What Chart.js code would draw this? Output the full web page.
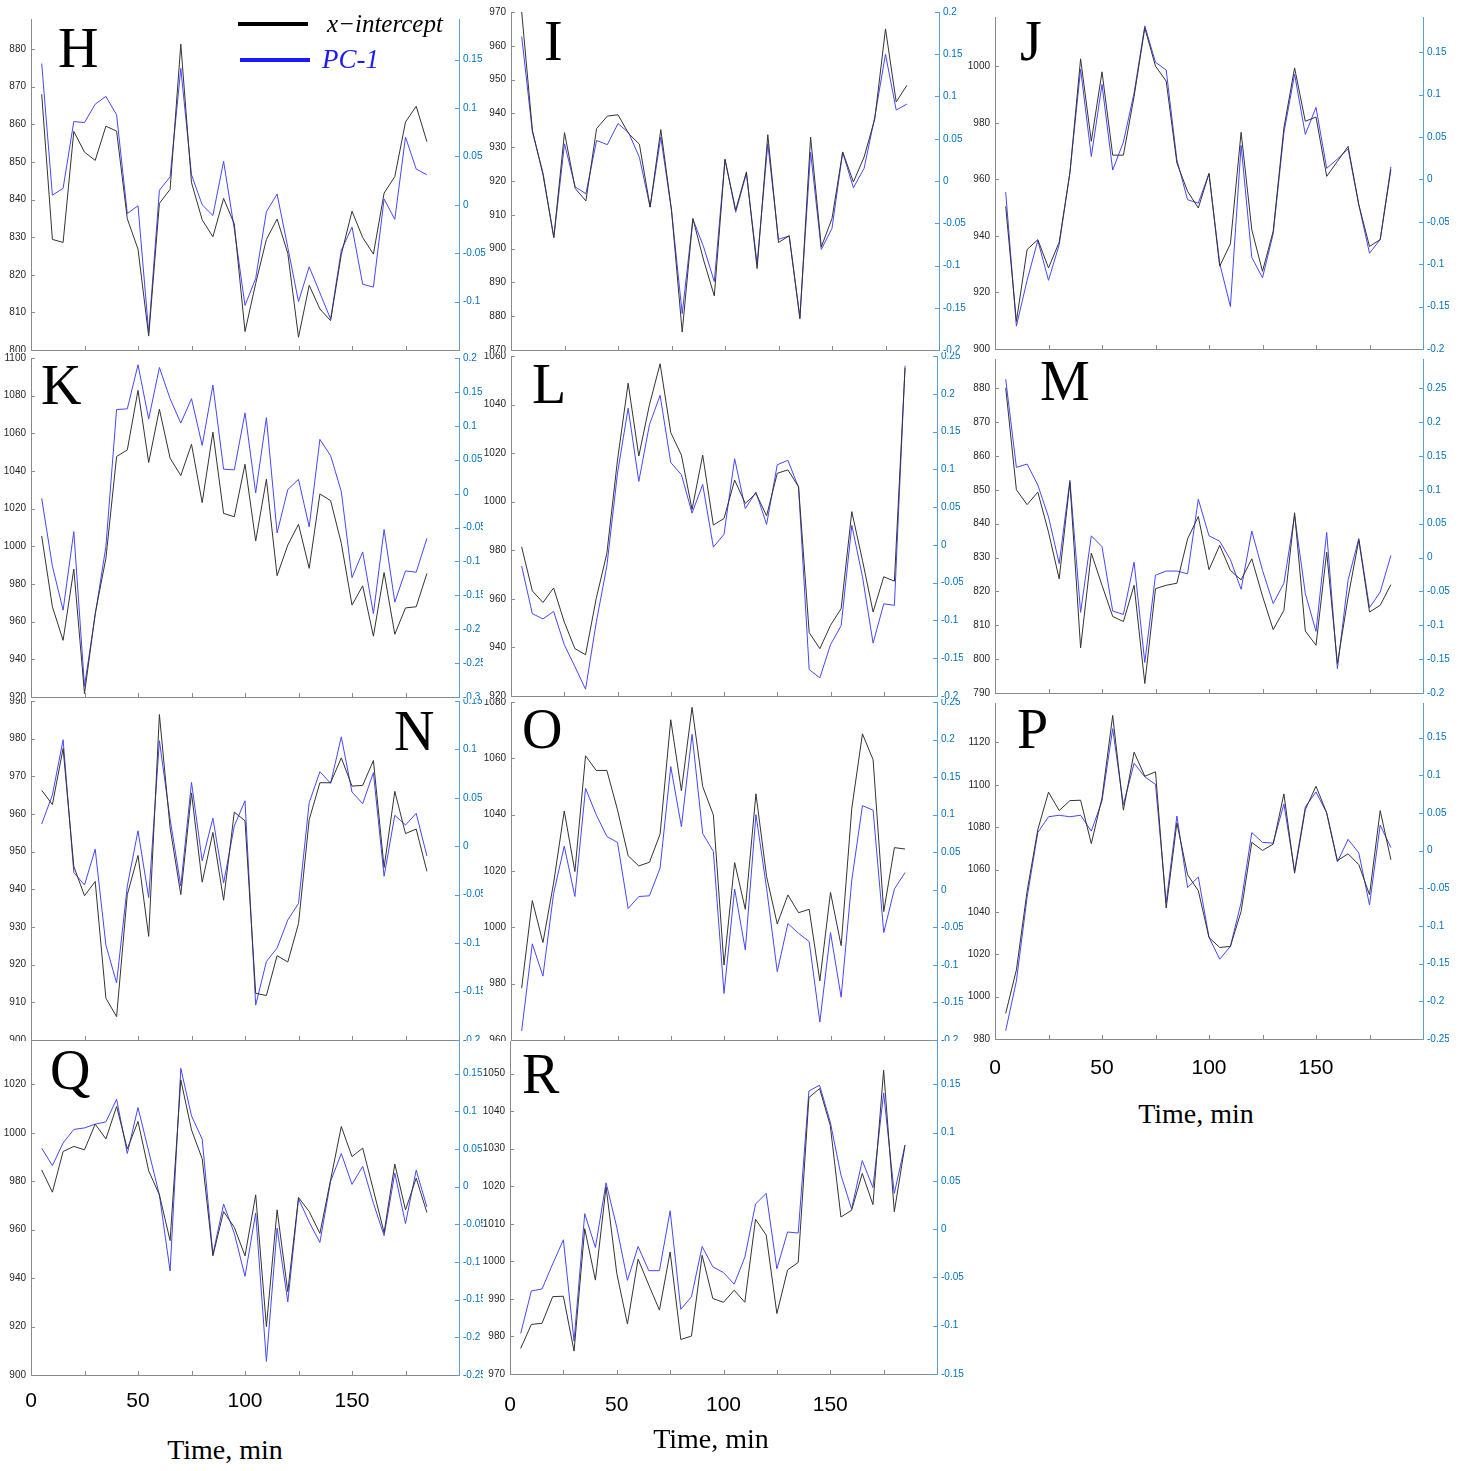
<!DOCTYPE html>
<html>
<head>
<meta charset="utf-8">
<title>x-intercept and PC-1 over time, panels H to R</title>
<script src="https://cdn.jsdelivr.net/npm/chart.js@4.4.1/dist/chart.umd.min.js"></script>
<style>
    html, body { margin: 0; padding: 0; background: #fff; }
    #page { position: relative; width: 1468px; height: 1471px; overflow: hidden; background: #fff; }
    .crop { position: absolute; overflow: hidden; background: #fff; }
    .crop canvas { position: absolute; }
    .letter { position: absolute; font-family: "Liberation Serif", "DejaVu Serif", serif; font-size: 56px; line-height: 1; color: #000; white-space: nowrap; }
    .xtitle { position: absolute; width: 200px; text-align: center; font-family: "Liberation Serif", serif; font-size: 28px; line-height: 1; color: #000; white-space: nowrap; }
    .legend-line { position: absolute; height: 3.5px; }
    .legend-text { position: absolute; font-family: "Liberation Serif", serif; font-style: italic; line-height: 1; white-space: nowrap; }
</style>
</head>
<body>
<div id="page"></div>
<script>
// time axis (min)
var minutes = [5, 10, 15, 20, 25, 30, 35, 40, 45, 50, 55, 60, 65, 70, 75, 80, 85, 90, 95,
    100, 105, 110, 115, 120, 125, 130, 135, 140, 145, 150, 155, 160, 165, 170, 175, 180, 185];

// x-intercept (left axis) and PC-1 (right axis) for each panel
var interceptH = [868.0, 829.4, 828.6, 858.1, 852.6, 850.4, 859.5, 858.2, 834.9, 826.8, 803.7, 839.0, 842.7, 881.3, 844.5, 834.6, 830.1, 840.3, 833.5, 804.9, 817.7, 829.4, 834.8, 825.7, 803.4, 817.2, 810.9, 807.8, 825.4, 836.9, 829.9, 825.5, 841.7, 846.1, 860.6, 864.8, 855.4];
var pc1H = [0.146, 0.010, 0.017, 0.086, 0.085, 0.104, 0.112, 0.093, -0.009, -0.001, -0.132, 0.015, 0.029, 0.141, 0.031, 0.000, -0.011, 0.045, -0.025, -0.104, -0.076, -0.007, 0.011, -0.044, -0.100, -0.064, -0.091, -0.118, -0.047, -0.023, -0.082, -0.085, 0.006, -0.015, 0.070, 0.037, 0.031];

var interceptI = [970.0, 935.0, 921.7, 903.3, 934.3, 917.8, 914.1, 935.5, 939.2, 939.6, 934.0, 930.9, 912.3, 935.2, 911.4, 875.3, 908.9, 896.6, 886.0, 926.3, 911.4, 922.7, 894.1, 933.7, 901.8, 903.8, 879.2, 933.0, 900.5, 908.9, 928.6, 919.7, 927.1, 938.4, 965.0, 943.4, 948.3];
var pc1I = [0.171, 0.058, 0.009, -0.067, 0.044, -0.007, -0.015, 0.048, 0.043, 0.068, 0.057, 0.028, -0.031, 0.052, -0.035, -0.157, -0.045, -0.078, -0.119, 0.026, -0.037, 0.009, -0.098, 0.044, -0.069, -0.065, -0.161, 0.034, -0.081, -0.056, 0.034, -0.008, 0.015, 0.076, 0.150, 0.084, 0.091];

var interceptJ = [950.5, 909.8, 935.2, 938.7, 928.7, 937.8, 962.3, 1002.7, 973.5, 998.1, 968.6, 968.6, 989.4, 1013.6, 1000.1, 994.8, 965.8, 955.8, 949.9, 962.1, 929.3, 937.2, 976.7, 942.2, 927.5, 941.7, 978.2, 999.5, 980.6, 982.1, 961.1, 966.4, 971.7, 951.1, 936.3, 938.7, 963.5];
var pc1J = [-0.015, -0.173, -0.119, -0.072, -0.119, -0.077, 0.008, 0.130, 0.027, 0.112, 0.011, 0.044, 0.102, 0.181, 0.138, 0.129, 0.023, -0.024, -0.028, 0.007, -0.099, -0.150, 0.040, -0.092, -0.116, -0.064, 0.055, 0.124, 0.053, 0.085, 0.013, 0.024, 0.036, -0.030, -0.087, -0.071, 0.015];

var interceptK = [1005.5, 967.9, 950.1, 987.9, 921.8, 964.3, 993.6, 1047.7, 1051.2, 1082.8, 1044.5, 1072.8, 1046.8, 1037.6, 1054.2, 1023.2, 1060.6, 1017.5, 1015.7, 1043.6, 1002.8, 1035.6, 984.4, 1000.7, 1011.7, 988.3, 1027.8, 1024.3, 1001.6, 968.8, 979.0, 952.3, 986.1, 953.3, 967.3, 967.9, 985.6];
var pc1K = [-0.007, -0.107, -0.172, -0.056, -0.284, -0.179, -0.078, 0.124, 0.125, 0.190, 0.110, 0.186, 0.140, 0.104, 0.140, 0.071, 0.160, 0.036, 0.035, 0.119, 0.001, 0.112, -0.058, 0.006, 0.021, -0.049, 0.080, 0.056, 0.003, -0.124, -0.086, -0.177, -0.053, -0.160, -0.114, -0.116, -0.066];

var interceptL = [981.4, 963.3, 958.5, 964.5, 950.5, 939.5, 937.0, 960.1, 978.7, 1017.2, 1048.8, 1018.8, 1039.9, 1056.8, 1028.5, 1019.2, 996.8, 1019.2, 990.4, 993.1, 1008.9, 999.3, 1003.4, 994.2, 1011.7, 1013.1, 1006.2, 946.1, 939.5, 949.1, 956.0, 995.9, 975.9, 954.6, 969.1, 967.3, 1055.0];
var pc1L = [-0.028, -0.091, -0.098, -0.088, -0.132, -0.161, -0.191, -0.103, -0.028, 0.095, 0.181, 0.084, 0.159, 0.198, 0.109, 0.093, 0.042, 0.080, -0.003, 0.014, 0.114, 0.048, 0.070, 0.027, 0.106, 0.112, 0.076, -0.165, -0.176, -0.132, -0.107, 0.026, -0.042, -0.130, -0.078, -0.080, 0.237];

var interceptM = [880.1, 850.0, 845.6, 849.3, 837.5, 823.7, 852.2, 803.3, 831.3, 821.8, 812.6, 811.1, 821.8, 792.8, 820.8, 821.8, 822.4, 835.5, 842.1, 826.4, 833.6, 826.2, 823.4, 829.6, 818.6, 808.7, 814.4, 843.2, 808.3, 804.1, 831.6, 798.7, 818.3, 835.2, 813.9, 815.9, 822.0];
var pc1M = [0.263, 0.133, 0.138, 0.107, 0.060, -0.009, 0.114, -0.081, 0.032, 0.016, -0.079, -0.084, -0.007, -0.155, -0.026, -0.020, -0.020, -0.024, 0.086, 0.032, 0.024, -0.003, -0.047, 0.039, -0.019, -0.068, -0.038, 0.062, -0.053, -0.109, 0.037, -0.164, -0.033, 0.028, -0.074, -0.051, 0.003];

var interceptN = [966.3, 962.5, 977.4, 946.1, 938.3, 942.1, 911.1, 906.2, 938.6, 949.0, 927.5, 986.4, 956.3, 938.6, 965.6, 941.9, 955.1, 937.1, 960.5, 958.2, 912.4, 911.8, 922.4, 920.7, 930.9, 958.5, 968.3, 968.3, 974.9, 967.4, 967.6, 974.2, 945.8, 966.0, 954.8, 956.0, 944.8];
var pc1N = [0.023, 0.053, 0.110, -0.027, -0.040, -0.003, -0.102, -0.141, -0.041, 0.016, -0.053, 0.109, 0.028, -0.041, 0.066, -0.015, 0.029, -0.038, 0.021, 0.047, -0.164, -0.119, -0.105, -0.076, -0.059, 0.045, 0.077, 0.065, 0.113, 0.056, 0.044, 0.076, -0.031, 0.032, 0.022, 0.034, -0.010];

var interceptO = [978.4, 1009.5, 994.6, 1015.7, 1041.3, 1019.8, 1060.9, 1055.7, 1055.7, 1041.7, 1025.4, 1021.8, 1023.1, 1033.1, 1073.7, 1048.5, 1078.1, 1050.0, 1039.9, 986.6, 1023.0, 1006.4, 1047.4, 1018.0, 1001.2, 1011.5, 1005.2, 1006.4, 981.0, 1012.4, 993.5, 1042.3, 1068.7, 1059.5, 1005.6, 1028.3, 1027.8];
var pc1O = [-0.188, -0.072, -0.115, -0.005, 0.058, -0.009, 0.135, 0.100, 0.071, 0.063, -0.025, -0.009, -0.008, 0.029, 0.164, 0.084, 0.207, 0.075, 0.051, -0.138, 0.001, -0.080, 0.100, 0.002, -0.109, -0.045, -0.058, -0.069, -0.176, -0.057, -0.143, 0.013, 0.112, 0.106, -0.057, 0.001, 0.023];

var interceptP = [992.1, 1012.6, 1049.7, 1078.8, 1096.5, 1087.8, 1092.5, 1092.7, 1072.2, 1093.8, 1132.7, 1088.0, 1115.4, 1104.0, 1106.1, 1041.8, 1082.0, 1057.5, 1050.0, 1027.9, 1023.2, 1023.7, 1040.2, 1072.8, 1069.0, 1072.0, 1095.7, 1058.3, 1088.3, 1099.3, 1086.7, 1064.2, 1067.4, 1062.3, 1048.1, 1087.8, 1064.6];
var pc1P = [-0.239, -0.173, -0.062, 0.024, 0.045, 0.047, 0.045, 0.047, 0.026, 0.066, 0.162, 0.061, 0.116, 0.098, 0.088, -0.069, 0.046, -0.049, -0.035, -0.115, -0.144, -0.127, -0.069, 0.024, 0.011, 0.010, 0.062, -0.027, 0.058, 0.078, 0.050, -0.015, 0.015, -0.003, -0.072, 0.034, 0.004];

var interceptQ = [984.7, 975.5, 992.3, 994.4, 993.0, 1003.6, 997.5, 1010.9, 993.4, 1004.7, 984.3, 974.4, 955.5, 1021.9, 1001.2, 989.3, 949.2, 967.5, 961.0, 949.2, 974.4, 920.0, 968.2, 934.4, 973.3, 967.5, 958.5, 980.6, 1002.6, 990.2, 993.7, 976.4, 958.8, 987.1, 968.2, 981.3, 967.1];
var pc1Q = [0.051, 0.028, 0.058, 0.076, 0.078, 0.083, 0.086, 0.116, 0.044, 0.105, 0.047, -0.011, -0.112, 0.157, 0.094, 0.063, -0.090, -0.023, -0.062, -0.119, -0.035, -0.232, -0.055, -0.153, -0.016, -0.047, -0.074, 0.007, 0.044, 0.003, 0.027, -0.022, -0.065, 0.018, -0.049, 0.022, -0.027];

var interceptR = [976.8, 983.2, 983.5, 990.6, 990.7, 976.1, 1008.7, 995.0, 1019.8, 996.8, 983.3, 1000.6, 993.7, 987.0, 1002.5, 979.2, 980.1, 1001.6, 990.1, 989.1, 992.3, 989.1, 1011.2, 1007.0, 986.1, 997.7, 999.7, 1043.6, 1046.0, 1036.2, 1011.8, 1013.6, 1023.4, 1015.1, 1050.9, 1013.2, 1030.9];
var pc1R = [-0.108, -0.064, -0.062, -0.036, -0.011, -0.116, 0.016, -0.019, 0.048, 0.002, -0.053, -0.018, -0.043, -0.043, 0.019, -0.083, -0.070, -0.018, -0.039, -0.045, -0.057, -0.029, 0.026, 0.037, -0.041, -0.003, -0.004, 0.143, 0.149, 0.111, 0.056, 0.021, 0.071, 0.043, 0.141, 0.037, 0.087];

// layout of each panel: plot box [left, right, top, bottom], crop box [x, y, w, h],
// left / right axis [min, max, step], letter [x, top], x tick label padding (bottom row only)
var panels = [
    { name: "H", intercept: interceptH, pc1: pc1H, plot: [31, 459, 19, 350], crop: [0, 0, 488, 352], left: [800, 888, 10], right: [-0.15, 0.192, 0.05], letter: [58, 20] },
    { name: "I", intercept: interceptI, pc1: pc1I, plot: [511, 939, 12, 350], crop: [488, 0, 479, 352], left: [870, 970, 10], right: [-0.2, 0.2, 0.05], letter: [544, 13] },
    { name: "J", intercept: interceptJ, pc1: pc1J, plot: [995, 1423, 17, 349], crop: [967, 0, 482, 352], left: [900, 1017.5, 20], right: [-0.2, 0.1915, 0.05], letter: [1020, 13] },
    { name: "K", intercept: interceptK, pc1: pc1K, plot: [31, 459, 358, 697], crop: [0, 352, 483, 347], left: [920, 1100, 20], right: [-0.3, 0.2, 0.05], letter: [41, 357] },
    { name: "L", intercept: interceptL, pc1: pc1L, plot: [511, 937, 356, 696], crop: [483, 352, 480, 347], left: [920, 1060, 20], right: [-0.2, 0.25, 0.05], letter: [532, 356] },
    { name: "M", intercept: interceptM, pc1: pc1M, plot: [995, 1423, 359, 693], crop: [963, 352, 505, 344], left: [790, 888.6, 10], right: [-0.2, 0.293, 0.05], letter: [1040, 353] },
    { name: "N", intercept: interceptN, pc1: pc1N, plot: [31, 459, 701, 1040], crop: [0, 699, 483, 342], left: [900, 990, 10], right: [-0.2, 0.15, 0.05], letter: [394, 703] },
    { name: "O", intercept: interceptO, pc1: pc1O, plot: [511, 937, 702, 1040], crop: [483, 699, 480, 342], left: [960, 1080, 20], right: [-0.2, 0.25, 0.05], letter: [522, 701] },
    { name: "P", intercept: interceptP, pc1: pc1P, plot: [995, 1423, 700, 1039], crop: [963, 703, 486, 440], left: [980, 1140, 20], right: [-0.25, 0.2, 0.05], letter: [1017, 701], xpad: 17 },
    { name: "Q", intercept: interceptQ, pc1: pc1Q, plot: [31, 459, 1036, 1375], crop: [0, 1041, 483, 430], left: [900, 1040, 20], right: [-0.25, 0.2, 0.05], letter: [50, 1042], xpad: 14 },
    { name: "R", intercept: interceptR, pc1: pc1R, plot: [510, 937, 1036, 1374], crop: [483, 1041, 485, 430], left: [970, 1060, 10], right: [-0.15, 0.2, 0.05], letter: [522, 1046], xpad: 19 }
];

// "Time, min" titles under the bottom row [center x, top]
var timeTitles = [[225, 1436], [711, 1425], [1196, 1100]];

var page = document.getElementById("page");

// MATLAB-style tick marks pointing into the plot
var inwardTicks = {
    id: "inwardTicks",
    afterDraw: function (chart) {
        var ctx = chart.ctx;
        var a = chart.chartArea;
        var len = 4;
        ctx.save();
        ctx.lineWidth = 1;
        ctx.strokeStyle = "#8a8a8a";
        chart.scales.x.ticks.forEach(function (t) {
            var px = Math.round(chart.scales.x.getPixelForValue(t.value)) + 0.5;
            ctx.beginPath();
            ctx.moveTo(px, a.bottom);
            ctx.lineTo(px, a.bottom - len);
            ctx.stroke();
        });
        chart.scales.yL.ticks.forEach(function (t) {
            var py = Math.round(chart.scales.yL.getPixelForValue(t.value)) + 0.5;
            ctx.beginPath();
            ctx.moveTo(a.left, py);
            ctx.lineTo(a.left + len, py);
            ctx.stroke();
        });
        ctx.strokeStyle = "#5aa0d8";
        chart.scales.yR.ticks.forEach(function (t) {
            var py = Math.round(chart.scales.yR.getPixelForValue(t.value)) + 0.5;
            ctx.beginPath();
            ctx.moveTo(a.right, py);
            ctx.lineTo(a.right - len, py);
            ctx.stroke();
        });
        ctx.restore();
    },
};

function makePanel(p) {
    var l = p.plot[0], r = p.plot[1], t = p.plot[2], b = p.plot[3];
    var hasX = p.xpad !== undefined;
    var bottomH = hasX ? 50 : 30;
    var sideW = 50;
    var topPad = 20;

    var crop = document.createElement("div");
    crop.className = "crop";
    crop.style.left = p.crop[0] + "px";
    crop.style.top = p.crop[1] + "px";
    crop.style.width = p.crop[2] + "px";
    crop.style.height = p.crop[3] + "px";
    page.appendChild(crop);

    var canvas = document.createElement("canvas");
    canvas.width = (r - l) + 2 * sideW;
    canvas.height = (b - t) + topPad + bottomH;
    canvas.style.left = (l - sideW - p.crop[0]) + "px";
    canvas.style.top = (t - topPad - p.crop[1]) + "px";
    crop.appendChild(canvas);

    new Chart(canvas.getContext("2d"), {
        type: "line",
        data: {
            datasets: [
                {
                    label: "x-intercept",
                    data: minutes.map((m, i) => ({ x: m, y: p.intercept[i] })),
                    yAxisID: "yL",
                    borderColor: "#333333",
                    borderWidth: 1,
                    pointRadius: 0,
                    tension: 0,
                },
                {
                    label: "PC-1",
                    data: minutes.map((m, i) => ({ x: m, y: p.pc1[i] })),
                    yAxisID: "yR",
                    borderColor: "#4646ff",
                    borderWidth: 1,
                    pointRadius: 0,
                    tension: 0,
                },
            ],
        },
        options: {
            responsive: false,
            devicePixelRatio: 1,
            animation: false,
            layout: { padding: { top: topPad, left: 0, right: 0, bottom: 0 } },
            plugins: {
                legend: { display: false },
                tooltip: { enabled: false },
            },
            scales: {
                x: {
                    type: "linear",
                    min: 0,
                    max: 200,
                    grid: { display: false, drawTicks: false },
                    border: { color: "#8a8a8a" },
                    ticks: {
                        display: hasX,
                        stepSize: 25,
                        autoSkip: false,
                        maxRotation: 0,
                        padding: hasX ? p.xpad : 0,
                        color: "#000",
                        font: { size: 21 },
                        callback: (v) => (v % 50 === 0 && v < 200 ? String(v) : ""),
                    },
                    afterFit: (s) => { s.height = bottomH; },
                },
                yL: {
                    position: "left",
                    min: p.left[0],
                    max: p.left[1],
                    grid: { display: false, drawTicks: false },
                    border: { color: "#8a8a8a" },
                    ticks: {
                        stepSize: p.left[2],
                        includeBounds: false,
                        autoSkip: false,
                        padding: 5,
                        color: "#262626",
                        font: { size: 10 },
                        callback: (v) => String(v),
                    },
                    afterFit: (s) => { s.width = sideW; },
                },
                yR: {
                    position: "right",
                    min: p.right[0],
                    max: p.right[1],
                    grid: { display: false, drawTicks: false },
                    border: { color: "#5aa0d8" },
                    ticks: {
                        stepSize: p.right[2],
                        includeBounds: false,
                        autoSkip: false,
                        padding: 4,
                        color: "#0072BD",
                        font: { size: 10 },
                        callback: (v) => String(Math.round(v * 1000) / 1000),
                    },
                    afterFit: (s) => { s.width = sideW; },
                },
            },
        },
        plugins: [inwardTicks],
    });
}

Chart.defaults.font.family = '"Liberation Sans", Arial, sans-serif';

panels.forEach(makePanel);

//panel letters
panels.forEach(function (p) {
    var d = document.createElement("div");
    d.className = "letter";
    d.textContent = p.name;
    d.style.left = p.letter[0] + "px";
    d.style.top = p.letter[1] + "px";
    page.appendChild(d);
});

//x axis titles
timeTitles.forEach(function (tt) {
    var d = document.createElement("div");
    d.className = "xtitle";
    d.textContent = "Time, min";
    d.style.left = (tt[0] - 100) + "px";
    d.style.top = tt[1] + "px";
    page.appendChild(d);
});

//legend in panel H
function legendItem(lineX, lineY, color, text, textX, textY, size) {
    var line = document.createElement("div");
    line.className = "legend-line";
    line.style.left = lineX + "px";
    line.style.top = lineY + "px";
    line.style.width = "70px";
    line.style.background = color;
    page.appendChild(line);

    var label = document.createElement("div");
    label.className = "legend-text";
    label.textContent = text;
    label.style.left = textX + "px";
    label.style.top = textY + "px";
    label.style.fontSize = size + "px";
    label.style.color = color;
    page.appendChild(label);
}
legendItem(238, 22, "#000000", "x\u2212intercept", 327, 11, 25);
legendItem(240, 58, "#1a1aff", "PC-1", 322, 46, 27);
</script>
</body>
</html>
